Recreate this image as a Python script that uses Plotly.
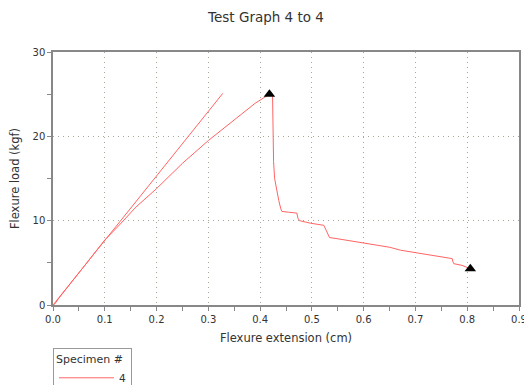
import plotly.graph_objects as go

# Specimen 4 curve (extension cm, load kgf)
curve_x = [0.0, 0.004, 0.01, 0.05, 0.1, 0.13, 0.16, 0.2, 0.25, 0.3, 0.35, 0.39, 0.418,
           0.424, 0.425, 0.426, 0.428, 0.432, 0.436, 0.440, 0.442, 0.455, 0.471, 0.473,
           0.476, 0.497, 0.510, 0.523, 0.528, 0.534, 0.55, 0.568, 0.6, 0.613, 0.626,
           0.65, 0.671, 0.703, 0.742, 0.771, 0.772, 0.774, 0.79, 0.806]
curve_y = [0.0, 0.15, 0.7, 3.8, 7.7, 9.6, 11.6, 13.8, 16.8, 19.5, 22.0, 23.9, 25.0,
           25.0, 21.0, 17.0, 15.0, 13.6, 12.4, 11.4, 11.1, 11.0, 10.9, 10.3,
           10.0, 9.7, 9.6, 9.45, 8.8, 8.0, 7.85, 7.67, 7.4, 7.28, 7.1,
           6.85, 6.5, 6.2, 5.8, 5.5, 5.2, 4.9, 4.7, 4.3]

# Straight (modulus) line
tangent_x = [0.0, 0.328]
tangent_y = [0.0, 25.1]

# Marked points (peak, break)
mark_x = [0.418, 0.806]
mark_y = [25.0, 4.3]

specimen = "4"

red = "rgb(255,100,100)"
axis_col = "#888888"
grid_col = "#a8a898"
font = "DejaVu Sans, Verdana, sans-serif"

W, H = 524, 377  # page body has an 8px margin

fig = go.Figure()
fig.add_trace(go.Scatter(x=tangent_x, y=tangent_y, mode="lines",
                         line=dict(color=red, width=1), showlegend=False, hoverinfo="skip"))
fig.add_trace(go.Scatter(x=curve_x, y=curve_y, mode="lines",
                         line=dict(color=red, width=1), name=specimen))
fig.add_trace(go.Scatter(x=mark_x, y=mark_y, mode="markers",
                         marker=dict(symbol="triangle-up", color="black", size=10),
                         showlegend=False))

fig.update_layout(
    width=W, height=H,
    paper_bgcolor="white", plot_bgcolor="white",
    margin=dict(l=45, r=13, t=44, b=80, autoexpand=False),
    font=dict(family=font, color="#333333", size=10),
    title=dict(text="Test Graph 4 to 4", x=(266 - 8) / W, xref="container", xanchor="center",
               y=1 - 9 / H, yref="container", yanchor="middle",
               font=dict(size=13.5, color="#333333", family=font)),
    legend=dict(title=dict(text="Specimen #", font=dict(size=11)),
                x=0, xref="paper", xanchor="left",
                y=-43 / 253, yanchor="top",
                bordercolor="#999999", borderwidth=1,
                itemwidth=55,
                font=dict(size=10.5), bgcolor="white"),
    showlegend=True,
)
fig.update_xaxes(range=[0, 0.9], dtick=0.1, tickformat=".1f",
                 showline=True, linecolor=axis_col, linewidth=1.5, mirror=True,
                 ticks="outside", ticklen=4, tickcolor=axis_col,
                 minor=dict(dtick=0.05, ticks="outside", ticklen=4, tickcolor=axis_col, showgrid=False),
                 showgrid=True, gridcolor=grid_col, griddash="1px,4px", gridwidth=1,
                 zeroline=False,
                 title=dict(text="Flexure extension (cm)", font=dict(size=11.5), standoff=10),
                 tickfont=dict(size=10))
fig.update_yaxes(range=[0, 30], dtick=10,
                 showline=True, linecolor=axis_col, linewidth=1.5, mirror=True,
                 ticks="outside", ticklen=4, tickcolor=axis_col,
                 minor=dict(dtick=5, ticks="outside", ticklen=4, tickcolor=axis_col, showgrid=False),
                 showgrid=True, gridcolor=grid_col, griddash="1px,4px", gridwidth=1,
                 zeroline=False,
                 title=dict(text="Flexure load (kgf)", font=dict(size=11.5), standoff=10),
                 tickfont=dict(size=10))

fig.write_html("out.html")
